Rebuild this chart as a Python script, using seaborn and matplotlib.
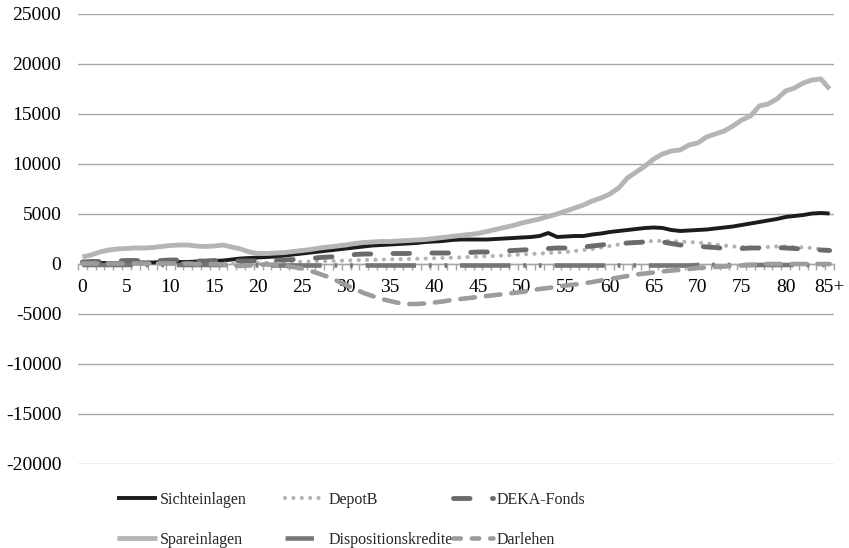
import numpy as np
import pandas as pd
import matplotlib
matplotlib.use("Agg")
import matplotlib.pyplot as plt
import seaborn as sns
from matplotlib.lines import Line2D

ages = list(range(86))
tick_pos = list(range(0, 86, 5))
tick_labels = [str(a) for a in range(0, 85, 5)] + ["85+"]

sichteinlagen = [100, 100, 100, 100, 100, 150, 150, 150, 150, 200, 200, 200, 200, 250, 250, 300, 350, 450, 550, 600,
                 650, 700, 750, 850, 950, 1050, 1150, 1250, 1350, 1450, 1550, 1650, 1750, 1850, 1900, 1950, 2000, 2050, 2100, 2200,
                 2250, 2300, 2400, 2450, 2450, 2450, 2450, 2500, 2550, 2600, 2650, 2700, 2800, 3100, 2700, 2750, 2800, 2800, 2950, 3050,
                 3200, 3300, 3400, 3500, 3600, 3650, 3600, 3400, 3300, 3350, 3400, 3450, 3550, 3650, 3750, 3900, 4050, 4200, 4350, 4500,
                 4700, 4800, 4900, 5050, 5100, 5050]
depotb = [50, 50, 50, 50, 50, 50, 50, 50, 50, 50, 50, 50, 50, 50, 50, 50, 50, 50, 60, 80,
          100, 130, 150, 180, 200, 220, 250, 280, 300, 320, 350, 370, 400, 420, 440, 460, 480, 500, 520, 540,
          570, 600, 630, 660, 700, 730, 770, 810, 860, 900, 950, 1000, 1050, 1100, 1150, 1200, 1300, 1400, 1500, 1650,
          1800, 1950, 2100, 2200, 2250, 2300, 2300, 2300, 2250, 2200, 2150, 2050, 1950, 1850, 1750, 1700, 1650, 1650, 1700, 1750,
          1750, 1700, 1650, 1600, 1500, 1400]
deka = [200, 250, 250, 250, 300, 350, 350, 300, 300, 350, 400, 400, 350, 300, 300, 350, 350, 300, 300, 300,
        300, 350, 400, 400, 450, 450, 550, 650, 700, 750, 850, 950, 1000, 1000, 1000, 1050, 1050, 1050, 1100, 1100,
        1100, 1100, 1100, 1150, 1150, 1200, 1200, 1250, 1300, 1350, 1400, 1450, 1500, 1550, 1600, 1600, 1650, 1700, 1800, 1900,
        2000, 2050, 2100, 2150, 2200, 2250, 2200, 2050, 1900, 1850, 1800, 1700, 1650, 1550, 1550, 1550, 1600, 1600, 1650, 1650,
        1600, 1550, 1500, 1450, 1400, 1350]
spareinlagen = [700, 900, 1200, 1400, 1500, 1550, 1600, 1600, 1650, 1750, 1850, 1900, 1900, 1800, 1750, 1800, 1900, 1700, 1500, 1200,
                1050, 1050, 1100, 1150, 1250, 1350, 1450, 1600, 1700, 1800, 1900, 2050, 2150, 2200, 2250, 2250, 2300, 2350, 2400, 2450,
                2550, 2650, 2750, 2850, 2950, 3050, 3250, 3450, 3650, 3850, 4100, 4300, 4500, 4750, 5000, 5300, 5600, 5900, 6300, 6600,
                7000, 7600, 8600, 9200, 9800, 10500, 11000, 11300, 11400, 11900, 12100, 12700, 13000, 13300, 13800, 14400, 14800, 15800, 16000, 16500,
                17300, 17600, 18100, 18400, 18500, 17500]
dispositionskredite = [-100] * 20 + [-150] * 50 + [-100] * 16
darlehen = [50, 50, 50, 50, 50, 50, 50, 50, 50, 50, 50, 50, 50, 0, 0, 0, -50, -150, -200, -150,
            -50, -50, -100, -200, -300, -450, -700, -1000, -1300, -1700, -2100, -2500, -2900, -3200, -3500, -3700, -3900, -4000, -4000, -3950,
            -3850, -3750, -3600, -3500, -3400, -3300, -3200, -3100, -3000, -2900, -2800, -2650, -2500, -2400, -2250, -2150, -2050, -1950, -1800, -1650,
            -1500, -1350, -1200, -1050, -950, -850, -750, -650, -600, -500, -400, -350, -300, -250, -200, -150, -100, -50, 0, 0,
            0, 0, 0, 0, 0, 0]

series = [
    ("Sichteinlagen", sichteinlagen, dict(color="#1c1c1c", lw=2.8, dashes=None, cap="butt", hd=None)),
    ("DepotB", depotb, dict(color="#b3b3b3", lw=3.0, dashes=(0.01, 2.0), cap="round", hd=None)),
    ("DEKA-Fonds", deka, dict(color="#6b6b6b", lw=3.5, dashes=(3.4, 4.6), cap="round", hd=None)),
    ("Spareinlagen", spareinlagen, dict(color="#b5b5b5", lw=3.5, dashes=None, cap="butt", hd=None)),
    ("Dispositionskredite", dispositionskredite, dict(color="#767676", lw=3.3, dashes=(11, 2.8, 0.6, 2.8, 0.6, 2.8), cap="butt",
                                                      hd=(6.2, 20))),
    ("Darlehen", darlehen, dict(color="#9c9c9c", lw=3.3, dashes=(3.2, 2.4), cap="round", hd=(1.6, 2.4))),
]

sns.set_theme(style="white")
plt.rcParams["font.family"] = ["Liberation Serif", "DejaVu Serif"]

fig = plt.figure(figsize=(8.49, 5.48), dpi=100)
ax = fig.add_axes([78 / 849, 1 - 464 / 548, (834 - 78) / 849, 450 / 548])

handles = {}
for name, vals, st in series:
    df = pd.DataFrame({"age": ages, "value": vals})
    sns.lineplot(data=df, x="age", y="value", ax=ax, color=st["color"], linewidth=st["lw"],
                 legend=False, zorder=3)
    ln = ax.lines[-1]
    if st["dashes"] is not None:
        ln.set_dashes(st["dashes"])
        ln.set_dash_capstyle(st["cap"])
    ln.set_solid_capstyle("butt")
    h = Line2D([0], [0], color=st["color"], lw=st["lw"])
    hd = st["hd"] if st["hd"] is not None else st["dashes"]
    if hd is not None:
        h.set_dashes(hd)
        h.set_dash_capstyle(st["cap"])
    h.set_solid_capstyle("butt")
    handles[name] = h

ax.set_xlim(-0.5, 85.5)
ax.set_ylim(-20000, 25000)
ax.set_yticks(range(-20000, 25001, 5000))
ax.set_yticklabels([str(v) for v in range(-20000, 25001, 5000)])
ax.set_xticks(tick_pos)
ax.set_xticklabels(tick_labels)
ax.set_xticks(np.arange(-0.5, 86, 1), minor=True)
ax.set_xlabel("")
ax.set_ylabel("")

ax.yaxis.grid(True, color="#a6a6a6", lw=1.0, zorder=0)
ax.xaxis.grid(False)
for s in ["top", "right", "left"]:
    ax.spines[s].set_visible(False)
ax.spines["bottom"].set_position(("data", 0))
ax.spines["bottom"].set_color("#a6a6a6")
ax.spines["bottom"].set_linewidth(1.0)
ax.spines["bottom"].set_zorder(2)
ax.tick_params(axis="x", which="major", length=0, pad=11, labelsize=14, colors="black")
ax.tick_params(axis="x", which="minor", length=4, width=1, color="#a6a6a6", direction="out", bottom=True)
ax.tick_params(axis="y", length=0, pad=12, labelsize=14, colors="black")

cols = [("Sichteinlagen", "Spareinlagen", 117), ("DepotB", "Dispositionskredite", 285), ("DEKA-Fonds", "Darlehen", 453)]
for a, b, xpx in cols:
    leg = fig.legend([handles[a], handles[b]], [a, b], loc="upper left",
                     bbox_to_anchor=(xpx / 849, 1 - 492 / 548), frameon=False, ncol=1,
                     handlelength=2.5, handletextpad=0.2, labelspacing=1.5, fontsize=11.5,
                     borderaxespad=0, borderpad=0)

fig.savefig("out.png", dpi=100)
